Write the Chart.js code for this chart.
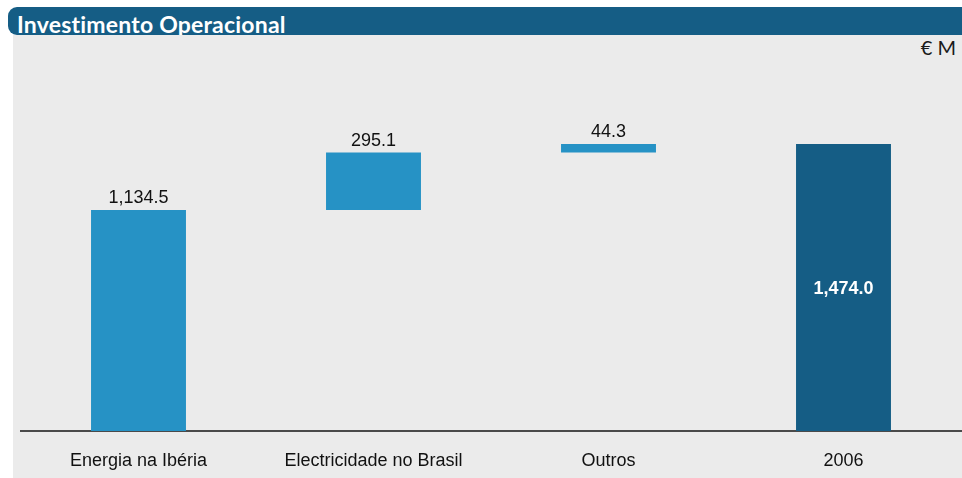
<!DOCTYPE html>
<html>
<head>
<meta charset="utf-8">
<script src="https://cdn.jsdelivr.net/npm/chart.js@4"></script>
<style>
  html, body { margin: 0; padding: 0; background: #fff; }
  #wrap { position: relative; width: 962px; height: 478px; overflow: hidden; }
  #panel { position: absolute; left: 13px; top: 35px; width: 949px; height: 443px; background: #ebebeb; }
  #titlebar { position: absolute; left: 8px; top: 7px; width: 954px; height: 28px; background: #155d85;
              border-radius: 9px 0 0 9px; overflow: hidden; }
  #titlebar span { position: absolute; left: 9px; top: 3px; color: #fff; font: bold 23px Lato, sans-serif;
                   letter-spacing: 0.2px; white-space: nowrap; }
  #unit { position: absolute; right: 6px; top: 35px; font: 400 20px Lato, sans-serif; color: #1a1a1a; }
  canvas { position: absolute; left: 0; top: 0; }
</style>
</head>
<body>
<div id="wrap">
  <div id="panel"></div>
  <div id="titlebar"><span>Investimento Operacional</span></div>
  <div id="unit">€ M</div>
  <canvas id="waterfallChart" width="962" height="478"></canvas>
</div>
<script>
const categories = ["Energia na Ibéria", "Electricidade no Brasil", "Outros", "2006"];
const increments = [1134.5, 295.1, 44.3];
const total = 1474.0;

(function() {
    // floating bars: each increment starts where the previous one ended
    let running = 0;
    const ranges = increments.map(function(v) {
        const r = [running, running + v];
        running += v;
        return r;
    });
    ranges.push([0, total]);
    const labels = increments.concat([total]);

    const lightBlue = 'rgb(38,146,197)';
    const darkBlue = 'rgb(21,93,133)';

    const valueLabels = {
        id: 'valueLabels',
        afterDatasetsDraw(chart) {
            const ctx = chart.ctx;
            const meta = chart.getDatasetMeta(0);
            ctx.save();
            ctx.textAlign = 'center';
            ctx.textBaseline = 'middle';
            meta.data.forEach(function(bar, i) {
                const text = labels[i].toLocaleString('en-US', { minimumFractionDigits: 1, maximumFractionDigits: 1 });
                if (i === labels.length - 1) {
                    ctx.font = 'bold 18px "Liberation Sans", Arial, sans-serif';
                    ctx.fillStyle = '#ffffff';
                    ctx.fillText(text, bar.x, (bar.y + bar.base) / 2 + 2);
                } else {
                    ctx.font = '18px "Liberation Sans", Arial, sans-serif';
                    ctx.fillStyle = '#111111';
                    ctx.fillText(text, bar.x, Math.min(bar.y, bar.base) - 12);
                }
            });
            ctx.restore();
        }
    };

    const ctx = document.getElementById("waterfallChart");
    new Chart(ctx, {
        type: 'bar',
        data: {
            labels: categories,
            datasets: [{
                data: ranges,
                backgroundColor: [lightBlue, lightBlue, lightBlue, darkBlue],
                borderWidth: 0,
                barPercentage: 0.404,
                categoryPercentage: 1.0
            }]
        },
        options: {
            responsive: false,
            animation: false,
            layout: {
                padding: { left: 21, right: 1, top: 61, bottom: 0 }
            },
            plugins: {
                legend: { display: false },
                title: { display: false },
                tooltip: { enabled: false }
            },
            scales: {
                x: {
                    grid: { display: false, drawTicks: false },
                    border: { display: true, color: '#4a4a4a', width: 2 },
                    ticks: {
                        color: '#111',
                        padding: 19,
                        font: { family: '"Liberation Sans", Arial, sans-serif', size: 18 }
                    },
                    afterFit: function(scale) { scale.height = 47; }
                },
                y: {
                    display: false,
                    min: 0,
                    max: 1900
                }
            }
        },
        plugins: [valueLabels]
    });
})();
</script>
</body>
</html>
